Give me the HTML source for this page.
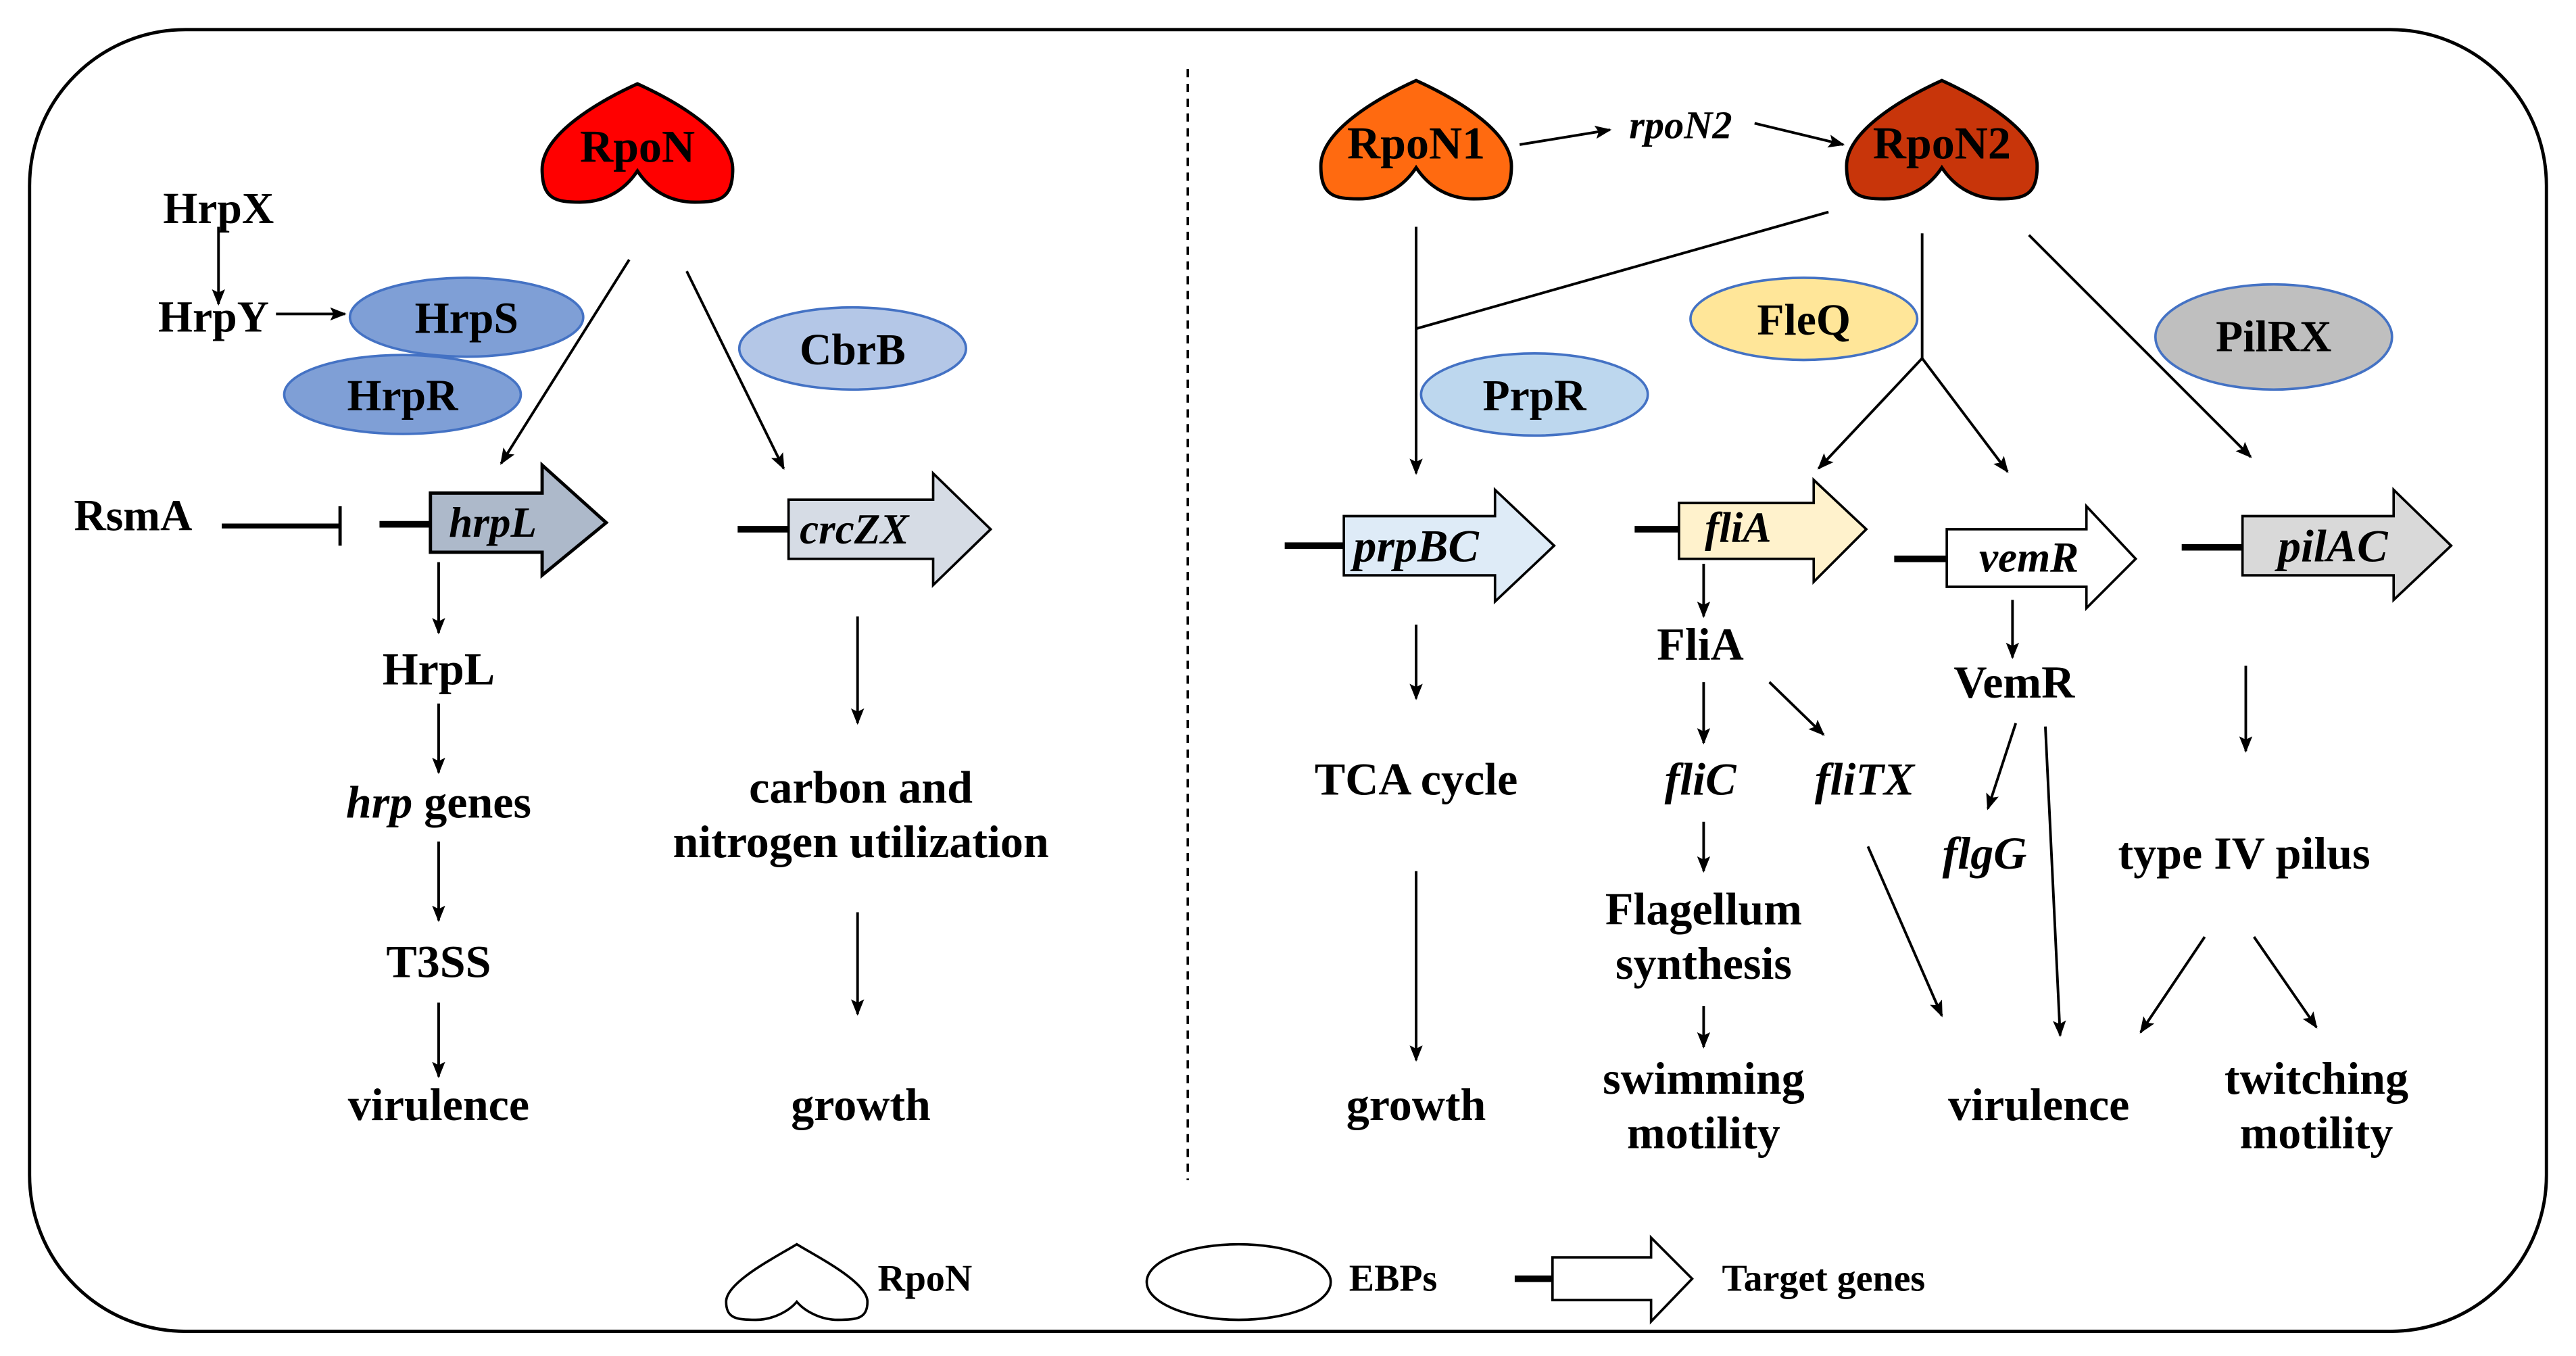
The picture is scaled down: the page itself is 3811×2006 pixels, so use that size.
<!DOCTYPE html>
<html><head><meta charset="utf-8"><style>
html,body{margin:0;padding:0;background:#fff}
svg{display:block}
text{font-family:"Liberation Serif",serif;font-weight:bold;fill:#000;text-anchor:middle;dominant-baseline:central}
.i{font-style:italic}
</style></head><body>
<svg width="3811" height="2006" viewBox="0 0 1568 825" preserveAspectRatio="none">
<defs>
<marker id="a" markerWidth="10" markerHeight="10" refX="9" refY="5" orient="auto" markerUnits="userSpaceOnUse" viewBox="0 0 10 10">
<path d="M0,1 L10,5 L0,9 L2,5 Z" fill="#000"/></marker>
<path id="h" d="M0,0 C22,10 58,30 58,52 C58,70 50,72 35,72 C20,72 8,65 0,53 C-8,65 -20,72 -35,72 C-50,72 -58,70 -58,52 C-58,30 -22,10 0,0 Z"/>
</defs>
<rect x="18" y="18" width="1532" height="792" rx="95" ry="95" fill="none" stroke="#000" stroke-width="2"/>
<line x1="723" y1="42" x2="723" y2="718" stroke="#000" stroke-width="1.5" stroke-dasharray="5,4"/>

<g stroke="#000" stroke-width="1.6" fill="none" marker-end="url(#a)">
<line x1="133" y1="138" x2="133" y2="185"/>
<line x1="168" y1="191" x2="210" y2="191"/>
<line x1="383" y1="158" x2="305" y2="282"/>
<line x1="418" y1="165" x2="477" y2="285"/>
<line x1="267" y1="342" x2="267" y2="385"/>
<line x1="267" y1="428" x2="267" y2="470"/>
<line x1="267" y1="512" x2="267" y2="560"/>
<line x1="267" y1="610" x2="267" y2="655"/>
<line x1="522" y1="375" x2="522" y2="440"/>
<line x1="522" y1="555" x2="522" y2="617"/>
<line x1="925" y1="88" x2="980" y2="79"/>
<line x1="1068" y1="75" x2="1122" y2="88"/>
<line x1="862" y1="138" x2="862" y2="288"/>
<line x1="1170" y1="218" x2="1107" y2="285"/>
<line x1="1170" y1="218" x2="1222" y2="287"/>
<line x1="1235" y1="143" x2="1370" y2="278"/>
<line x1="862" y1="380" x2="862" y2="425"/>
<line x1="862" y1="530" x2="862" y2="645"/>
<line x1="1037" y1="343" x2="1037" y2="375"/>
<line x1="1037" y1="415" x2="1037" y2="452"/>
<line x1="1077" y1="415" x2="1110" y2="447"/>
<line x1="1037" y1="500" x2="1037" y2="530"/>
<line x1="1037" y1="612" x2="1037" y2="637"/>
<line x1="1137" y1="515" x2="1182" y2="618"/>
<line x1="1225" y1="365" x2="1225" y2="400"/>
<line x1="1227" y1="440" x2="1210" y2="492"/>
<line x1="1245" y1="442" x2="1254" y2="630"/>
<line x1="1367" y1="405" x2="1367" y2="457"/>
<line x1="1342" y1="570" x2="1303" y2="628"/>
<line x1="1372" y1="570" x2="1410" y2="625"/>
</g>
<g stroke="#000" stroke-width="1.6">
<line x1="862" y1="200" x2="1113" y2="129"/>
<line x1="1170" y1="142" x2="1170" y2="218"/>
<line x1="135" y1="320" x2="207" y2="320" stroke-width="3"/>
<line x1="207" y1="308" x2="207" y2="332" stroke-width="2"/>
</g>

<use href="#h" x="388" y="51" fill="#ff0000" stroke="#000" stroke-width="2"/>
<use href="#h" x="862" y="49" fill="#ff6a10" stroke="#000" stroke-width="2"/>
<use href="#h" x="1182" y="49" fill="#c8350a" stroke="#000" stroke-width="2"/>
<text x="388" y="89" font-size="28">RpoN</text>
<text x="862" y="87" font-size="28">RpoN1</text>
<text x="1182" y="87" font-size="28">RpoN2</text>
<text x="1023" y="76" font-size="24" class="i">rpoN2</text>

<g stroke="#4472c4" stroke-width="1.5">
<ellipse cx="245" cy="240" rx="72" ry="24" fill="#7f9fd6"/>
<ellipse cx="284" cy="193" rx="71" ry="24" fill="#7f9fd6"/>
<ellipse cx="519" cy="212" rx="69" ry="25" fill="#b4c7e7"/>
<ellipse cx="1098" cy="194" rx="69" ry="25" fill="#ffe699"/>
<ellipse cx="934" cy="240" rx="69" ry="25" fill="#bdd7ee"/>
<ellipse cx="1384" cy="205" rx="72" ry="32" fill="#bfbfbf"/>
</g>
<g font-size="27">
<text x="284" y="194">HrpS</text>
<text x="245" y="241">HrpR</text>
<text x="519" y="213">CbrB</text>
<text x="1098" y="195">FleQ</text>
<text x="934" y="241">PrpR</text>
<text x="1384" y="205">PilRX</text>
<text x="133" y="127">HrpX</text>
<text x="130" y="193">HrpY</text>
<text x="81" y="314">RsmA</text>
</g>

<g stroke="#000" stroke-width="2">
<line x1="231" y1="319" x2="262" y2="319" stroke-width="4"/>
<path d="M262,300 H330 V283 L369,318 L330,350 V336 H262 Z" fill="#adb9ca"/>
<line x1="449" y1="322" x2="480" y2="322" stroke-width="4"/>
<path d="M480,304 H568 V288 L603,322 L568,356 V340 H480 Z" fill="#d6dce5" stroke-width="1.5"/>
<line x1="782" y1="332" x2="818" y2="332" stroke-width="4"/>
<path d="M818,314 H910 V298 L946,332 L910,366 V350 H818 Z" fill="#deebf7" stroke-width="1.5"/>
<line x1="995" y1="322" x2="1022" y2="322" stroke-width="4"/>
<path d="M1022,306 H1104 V292 L1136,322 L1104,354 V340 H1022 Z" fill="#fff2cc" stroke-width="1.5"/>
<line x1="1153" y1="340" x2="1185" y2="340" stroke-width="4"/>
<path d="M1185,322 H1270 V308 L1300,340 L1270,370 V357 H1185 Z" fill="#fff" stroke-width="1.5"/>
<line x1="1328" y1="333" x2="1365" y2="333" stroke-width="4"/>
<path d="M1365,314 H1457 V298 L1492,332 L1457,365 V350 H1365 Z" fill="#d9d9d9" stroke-width="1.5"/>
</g>
<text x="300" y="318" font-size="26" class="i">hrpL</text>
<text x="520" y="322" font-size="26" class="i">crcZX</text>
<text x="862" y="332" font-size="28" class="i">prpBC</text>
<text x="1058" y="321" font-size="26" class="i">fliA</text>
<text x="1235" y="339" font-size="26" class="i">vemR</text>
<text x="1420" y="332" font-size="28" class="i">pilAC</text>

<g font-size="28">
<text x="267" y="407">HrpL</text>
<text x="267" y="488"><tspan font-style="italic">hrp</tspan> genes</text>
<text x="267" y="585">T3SS</text>
<text x="267" y="672">virulence</text>
<text x="524" y="479">carbon and</text>
<text x="524" y="512">nitrogen utilization</text>
<text x="524" y="672">growth</text>
<text x="862" y="474">TCA cycle</text>
<text x="862" y="672">growth</text>
<text x="1035" y="392">FliA</text>
<text x="1035" y="474" class="i">fliC</text>
<text x="1135" y="474" class="i">fliTX</text>
<text x="1037" y="553">Flagellum</text>
<text x="1037" y="586">synthesis</text>
<text x="1037" y="656">swimming</text>
<text x="1037" y="689">motility</text>
<text x="1226" y="415">VemR</text>
<text x="1208" y="519" class="i">flgG</text>
<text x="1241" y="672">virulence</text>
<text x="1366" y="519">type IV pilus</text>
<text x="1410" y="656">twitching</text>
<text x="1410" y="689">motility</text>
</g>

<path d="M485,757 C498,765 528,780 528,792 C528,802 522,803 510,803 C500,803 490,798 485,792 C480,798 470,803 460,803 C448,803 442,802 442,792 C442,780 472,765 485,757 Z" fill="#fff" stroke="#000" stroke-width="1.5"/>
<text x="563" y="778" font-size="23">RpoN</text>
<ellipse cx="754" cy="780" rx="56" ry="23" fill="#fff" stroke="#000" stroke-width="1.5"/>
<text x="848" y="778" font-size="23">EBPs</text>
<line x1="922" y1="778" x2="945" y2="778" stroke="#000" stroke-width="4"/>
<path d="M945,765 H1005 V753 L1030,778 L1005,804 V791 H945 Z" fill="#fff" stroke="#000" stroke-width="1.5"/>
<text x="1110" y="778" font-size="23">Target genes</text>
</svg>
</body></html>
